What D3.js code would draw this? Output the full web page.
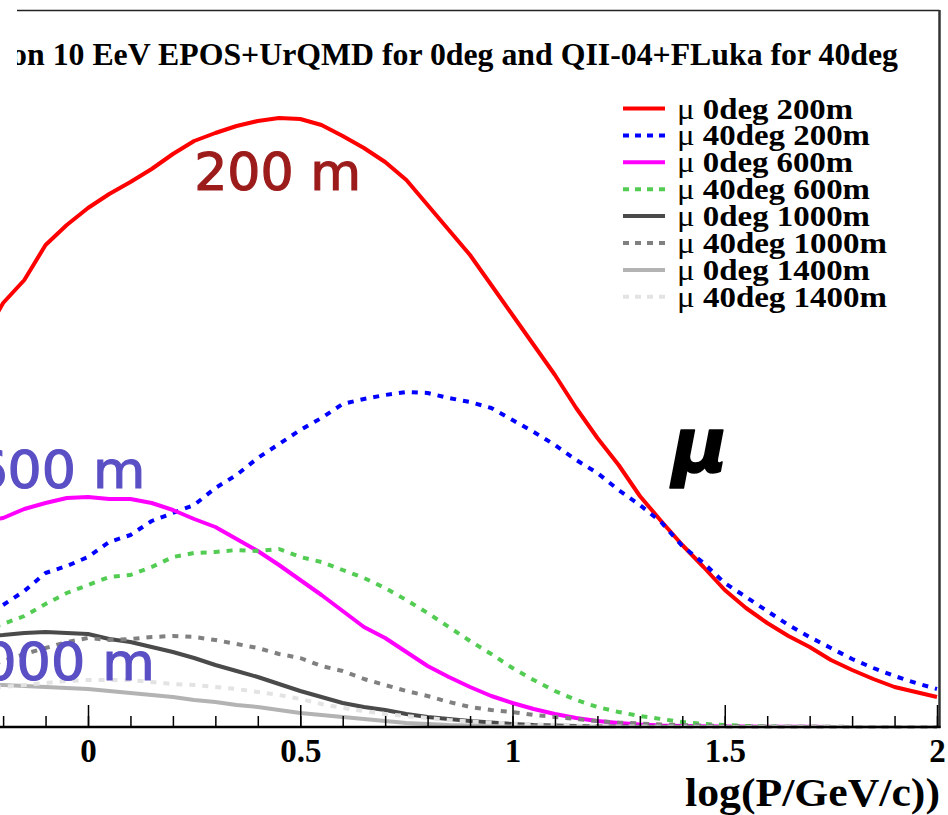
<!DOCTYPE html>
<html>
<head>
<meta charset="utf-8">
<script src="https://cdn.jsdelivr.net/npm/d3@7"></script>
<style>
  html, body { margin: 0; padding: 0; background: #fff; }
  svg { display: block; }
</style>
</head>
<body>
<svg id="chart" width="948" height="815"></svg>
<script>
// Muon momentum spectra at several core distances, 0deg vs 40deg showers.
const logP = d3.range(46).map(i => +(-0.25 + i * 0.05).toFixed(2));

const mu0deg200m = [3.87,4.24,4.47,4.82,5.02,5.19,5.33,5.45,5.58,5.73,5.86,5.94,6.01,6.06,6.09,6.08,6.02,5.91,5.79,5.65,5.47,5.22,4.97,4.72,4.42,4.12,3.82,3.52,3.19,2.89,2.62,2.31,2.06,1.82,1.60,1.37,1.19,1.04,0.91,0.80,0.67,0.57,0.48,0.40,0.35,0.30];
const mu40deg200m = [1.07,1.22,1.36,1.54,1.61,1.70,1.85,1.92,2.06,2.14,2.22,2.39,2.52,2.69,2.83,2.97,3.09,3.23,3.28,3.32,3.35,3.34,3.29,3.25,3.19,3.07,2.95,2.82,2.67,2.54,2.37,2.22,2.05,1.81,1.64,1.44,1.30,1.16,1.02,0.90,0.79,0.68,0.59,0.51,0.44,0.38];
const mu0deg600m = [2.05,2.09,2.18,2.24,2.29,2.30,2.28,2.28,2.24,2.17,2.08,2.00,1.88,1.76,1.62,1.47,1.32,1.16,1.00,0.89,0.75,0.61,0.50,0.40,0.31,0.24,0.18,0.13,0.09,0.06,0.04,0.025,0.015,0.01,0.007,0.005,0.004,0.003,0.002,0.002,0.001,0.001,0,0,0,0];
const mu40deg600m = [0.97,1.03,1.11,1.23,1.34,1.42,1.50,1.52,1.60,1.70,1.74,1.75,1.77,1.76,1.78,1.70,1.65,1.57,1.49,1.39,1.27,1.14,1.00,0.86,0.73,0.59,0.47,0.36,0.27,0.20,0.15,0.11,0.08,0.05,0.03,0.02,0.01,0.005,0.003,0.002,0.001,0,0,0,0,0];
const mu0deg1000m = [0.91,0.92,0.94,0.95,0.94,0.93,0.88,0.85,0.80,0.75,0.69,0.62,0.56,0.50,0.43,0.36,0.30,0.24,0.20,0.17,0.13,0.10,0.08,0.06,0.045,0.03,0.02,0.015,0.01,0.005,0.004,0.003,0.002,0.002,0.001,0.001,0,0,0,0,0,0,0,0,0,0];
const mu40deg1000m = [0.59,0.66,0.73,0.79,0.85,0.89,0.87,0.88,0.90,0.91,0.90,0.87,0.83,0.79,0.73,0.69,0.61,0.56,0.48,0.42,0.36,0.31,0.25,0.20,0.17,0.15,0.12,0.10,0.08,0.06,0.045,0.035,0.025,0.02,0.015,0.01,0.005,0.004,0.003,0.002,0.002,0.001,0.001,0,0,0];
const mu0deg1400m = [0.42,0.42,0.41,0.40,0.39,0.38,0.36,0.34,0.32,0.30,0.27,0.25,0.22,0.20,0.17,0.14,0.12,0.10,0.08,0.06,0.04,0.03,0.02,0.015,0.01,0.005,0.004,0.003,0.002,0.001,0,0,0,0,0,0,0,0,0,0,0,0,0,0,0,0];
const mu40deg1400m = [0.39,0.40,0.42,0.44,0.46,0.47,0.47,0.47,0.45,0.43,0.42,0.40,0.38,0.35,0.32,0.28,0.23,0.19,0.16,0.13,0.11,0.09,0.07,0.055,0.045,0.035,0.025,0.02,0.015,0.01,0.005,0.004,0.003,0.002,0.001,0,0,0,0,0,0,0,0,0,0,0];

const seriesNames = ["0deg 200m","40deg 200m","0deg 600m","40deg 600m","0deg 1000m","40deg 1000m","0deg 1400m","40deg 1400m"];
const seriesValues = [mu0deg200m, mu40deg200m, mu0deg600m, mu40deg600m, mu0deg1000m, mu40deg1000m, mu0deg1400m, mu40deg1400m];
const seriesColors = ["#ff0000","#0000ff","#ff00ff","#52cc52","#4a4a4a","#808080","#b3b3b3","#e3e3e3"];
const seriesDashed = [false,true,false,true,false,true,false,true];

const majorTicks = [0, 0.5, 1, 1.5, 2];
const minorTicks = d3.range(-2, 21).map(i => i / 10);

const titleText = "Proton 10 EeV EPOS+UrQMD for 0deg and QII-04+FLuka for 40deg";
const xTitle = "log(P/GeV/c))";
const distanceLabels = [
  {text: "200 m", x: 0.25, y: 5.37, color: "#9c1b1b", len: 167},
  {text: "600 m", x: -0.27, y: 2.39, color: "#5a4fc4", len: 172},
  {text: "1000 m", x: -0.33, y: 0.47, color: "#5a4fc4", len: 207}
];

const svg = d3.select("#chart");
const x = d3.scaleLinear().domain([0, 2]).range([88, 937]);
const y = d3.scaleLinear().domain([0, 7.17]).range([727, 10]);
const frameRight = 939.5;
const serif = "'Liberation Serif', 'Times New Roman', serif";

svg.append("defs").append("clipPath").attr("id", "topclip")
  .append("rect").attr("x", 17).attr("y", 0).attr("width", 931).attr("height", 100);

// frame: top and right edges
svg.append("line").attr("clip-path", "url(#topclip)")
  .attr("x1", 0).attr("x2", frameRight).attr("y1", 10.5).attr("y2", 10.5)
  .attr("stroke", "#222").attr("stroke-width", 1.5);
svg.append("line")
  .attr("x1", frameRight).attr("x2", frameRight).attr("y1", 10).attr("y2", 728)
  .attr("stroke", "#333").attr("stroke-width", 2.5);

// curves
const line = d3.line().x((d, i) => x(logP[i])).y(d => y(d));
seriesValues.forEach((vals, k) => {
  svg.append("path")
    .attr("d", line(vals))
    .attr("fill", "none")
    .attr("stroke", seriesColors[k])
    .attr("stroke-width", 4)
    .attr("stroke-linejoin", "round")
    .attr("stroke-dasharray", seriesDashed[k] ? "6,7" : null);
});

// x axis
const axisY = 727;
const minorAxis = d3.axisBottom(x).tickValues(minorTicks).tickSize(-11).tickFormat("");
const majorAxis = d3.axisBottom(x).tickValues(majorTicks).tickSize(-22).tickPadding(12)
  .tickFormat(d3.format("~g"));
const gMin = svg.append("g").attr("transform", `translate(0,${axisY})`).call(minorAxis);
const gMaj = svg.append("g").attr("transform", `translate(0,${axisY})`).call(majorAxis);
[gMin, gMaj].forEach(g => {
  g.select(".domain").remove();
  g.selectAll(".tick line").attr("stroke", "#000").attr("stroke-width", 1.5);
});
gMaj.selectAll(".tick text")
  .attr("font-family", serif)
  .attr("font-weight", "bold").attr("font-size", 33).attr("fill", "#000");
svg.append("line").attr("x1", 0).attr("x2", frameRight + 1).attr("y1", axisY).attr("y2", axisY)
  .attr("stroke", "#000").attr("stroke-width", 2.5);

svg.append("text")
  .attr("x", 685).attr("y", 806)
  .attr("textLength", 255).attr("lengthAdjust", "spacingAndGlyphs")
  .attr("font-family", serif)
  .attr("font-weight", "bold").attr("font-size", 40).attr("fill", "#000")
  .text(xTitle);

// title
svg.append("text").attr("clip-path", "url(#topclip)")
  .attr("x", 898).attr("y", 65).attr("text-anchor", "end")
  .attr("font-family", serif)
  .attr("font-weight", "bold").attr("font-size", 31.8).attr("fill", "#000")
  .text(titleText);

// distance labels
distanceLabels.forEach(l => {
  svg.append("text")
    .attr("x", x(l.x)).attr("y", y(l.y))
    .attr("textLength", l.len).attr("lengthAdjust", "spacingAndGlyphs")
    .attr("font-family", "'DejaVu Sans', sans-serif")
    .attr("font-size", 52).attr("fill", l.color)
    .attr("stroke", l.color).attr("stroke-width", 1.2)
    .text(l.text);
});

// particle symbol
svg.append("text")
  .attr("x", 672).attr("y", 472)
  .attr("font-family", "'DejaVu Sans', sans-serif")
  .attr("font-style", "oblique").attr("font-weight", "bold")
  .attr("font-size", 76).attr("fill", "#000")
  .attr("stroke", "#000").attr("stroke-width", 1.5)
  .attr("stroke-linejoin", "round")
  .text("μ");

// legend
const legendEnds = [853, 870, 853, 870, 870, 887, 870, 887];
const leg = svg.append("g");
seriesNames.forEach((name, k) => {
  const cy = 108.5 + k * 26.9;
  leg.append("line")
    .attr("x1", 623).attr("x2", 665).attr("y1", cy).attr("y2", cy)
    .attr("stroke", seriesColors[k]).attr("stroke-width", 4)
    .attr("stroke-dasharray", seriesDashed[k] ? "6,6" : null);
  const t = leg.append("text")
    .attr("x", 677).attr("y", cy + 10)
    .attr("textLength", legendEnds[k] - 677).attr("lengthAdjust", "spacingAndGlyphs")
    .attr("font-family", serif)
    .attr("font-size", 30).attr("fill", "#000");
  t.append("tspan").attr("font-weight", "normal").text("μ ");
  t.append("tspan").attr("font-weight", "bold").text(name);
});
</script>
</body>
</html>
